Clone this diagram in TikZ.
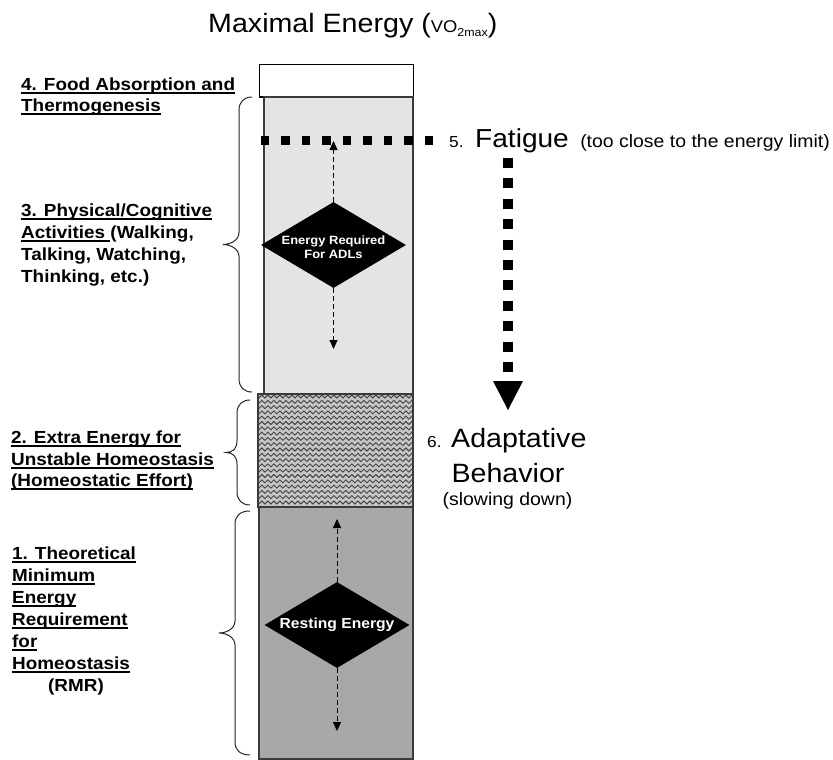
\documentclass[tikz,border=0pt]{standalone}
\usepackage{fontspec}
\setmainfont[FakeStretch=1.08]{Liberation Sans}
\usetikzlibrary{arrows.meta,decorations.pathmorphing,shapes.geometric}
\newsavebox\myulbox
\newcommand\myul[1]{\sbox\myulbox{#1}\rlap{\rule[-3.6pt]{\wd\myulbox}{1.5pt}}\usebox\myulbox}
\newcommand\fsz[1]{\fontsize{#1}{#1}\selectfont}
\definecolor{lightbox}{HTML}{E4E4E4}
\definecolor{darkbox}{HTML}{A8A8A8}
\definecolor{wavebg}{HTML}{C6C6C6}
\definecolor{waveln}{HTML}{444444}
\definecolor{edge}{HTML}{3A3A3A}
\newcommand\curlybrace[5]{%
  \pgfmathsetmacro\cbm{(#4+#5)/2}%
  \draw[curlyline] (#1,#4) .. controls ({#2+5},#4) and (#2,{#4+5}) .. (#2,{#4+13})
    -- (#2,{\cbm-12}) .. controls (#2,{\cbm-4}) and ({#3+7},\cbm) .. (#3,\cbm)
    .. controls ({#3+7},\cbm) and (#2,{\cbm+4}) .. (#2,{\cbm+12})
    -- (#2,{#5-13}) .. controls (#2,{#5-5}) and ({#2+5},#5) .. (#1,#5);}
\tikzset{
  boxline/.style={draw=edge, line width=1.2pt},
  curlyline/.style={draw=black!85, line width=1pt},
  lbl/.style={inner sep=0pt, anchor=base west, font=\bfseries\fsz{17.5}},
  txt/.style={inner sep=0pt, anchor=base west},
  ctxt/.style={inner sep=0pt, anchor=base},
  dia/.style={diamond, fill=black, inner sep=0pt, minimum width=145pt, minimum height=86pt},
  diatext/.style={text=white, inner sep=0pt, align=center, font=\bfseries},
  dasharr/.style={draw=black, line width=1pt, dash pattern=on 5pt off 3pt, -{Triangle[width=8pt,length=9pt]}},
  fatdots/.style={draw=black, line width=8.5pt, dash pattern=on 8.5pt off 12pt},
  fatdotsv/.style={draw=black, line width=10pt, dash pattern=on 10pt off 10.4pt},
  waveline/.style={draw=waveln, line width=0.9pt, decorate, decoration={snake, segment length=6pt, amplitude=1.5pt}}
}
\begin{document}
\begin{tikzpicture}[x=1pt,y=-1pt]
\useasboundingbox (0,0) rectangle (833,760);
\fill[white] (0,0) rectangle (833,760);

% column of boxes
\draw[boxline, draw=black, line width=1pt, fill=white] (259,65) rectangle (413,97);
\draw[boxline, fill=lightbox] (264,97) rectangle (413,394);
\begin{scope}
  \clip (258,394) rectangle (413,507);
  \fill[wavebg] (258,394) rectangle (413,507);
  \foreach \yy in {396.5,401.8,...,508} \draw[waveline] (254,\yy) -- (417,\yy);
\end{scope}
\draw[boxline] (258,394) rectangle (413,507);
\draw[boxline, fill=darkbox] (259,507) rectangle (413,759);

% title
\node[txt] (title) at (208,33) {\fsz{26.5}Maximal Energy (\fsz{17}VO\raisebox{-4pt}{\fsz{11.5}2max}\fsz{26.5})};

% diamonds
\node[dia] (adl) at (333.5,245) {};
\node[diatext, font=\bfseries\fontsize{12}{14}\selectfont] (adlt) at (333.5,247) {Energy Required\\For ADLs};
\node[dia] (rest) at (337,625) {};
\node[diatext, font=\bfseries\fsz{14.5}] (restt) at (rest.center) {Resting Energy};

\coordinate (adlup) at (333.5,141);
\coordinate (adldn) at (333.5,349);
\coordinate (restup) at (337,519);
\coordinate (restdn) at (337,731);
\draw[dasharr] (adl.north) -- (adlup);
\draw[dasharr] (adl.south) -- (adldn);
\draw[dasharr] (rest.north) -- (restup);
\draw[dasharr] (rest.south) -- (restdn);

% fatigue line and arrow
\coordinate (fatl) at (260.5,140.5);
\coordinate (fatr) at (434,140.5);
\draw[fatdots] (fatl) -- (fatr);
\coordinate (vtop) at (508,158);
\coordinate (vbot) at (508,373);
\coordinate (vtip) at (508,410);
\draw[fatdotsv] (vtop) -- (vbot);
\fill[black] (493,381) -- (523,381) -- (vtip) -- cycle;

\node[txt] (fatigue) at (449,147) {\fsz{16}5.\hspace{11.6pt}\fsz{26}Fatigue\hspace{11.4pt}\fsz{18}(too close to the energy limit)};

\node[txt] (adapt) at (427,447) {\fsz{16}6.\hspace{9.6pt}\fsz{26.5}Adaptative};
\node[ctxt] (behav) at (508,482) {\fsz{26.5}Behavior};
\node[ctxt] (slow) at (507.5,505) {\fsz{18}(slowing down)};

% braces
\curlybrace{252}{239}{223}{97}{392}
\curlybrace{250}{237}{226}{400}{505}
\curlybrace{250}{235}{219}{511}{755}

% left labels
\node[lbl] (t4a) at (21,90) {\myul{4. Food Absorption and}};
\node[lbl] (t4b) at (21,111) {\myul{Thermogenesis}};

\node[lbl] (t3a) at (21,216) {\myul{3. Physical/Cognitive}};
\node[lbl] (t3b) at (21,238) {\myul{Activities }(Walking,};
\node[lbl] (t3c) at (21,260) {Talking, Watching,};
\node[lbl] (t3d) at (21,282) {Thinking, etc.)};

\node[lbl] (t2a) at (11,443) {\myul{2. Extra Energy for}};
\node[lbl] (t2b) at (11,465) {\myul{Unstable Homeostasis}};
\node[lbl] (t2c) at (11,486) {\myul{(Homeostatic Effort)}};

\node[lbl] (t1a) at (12,559) {\myul{1. Theoretical}};
\node[lbl] (t1b) at (12,581) {\myul{Minimum}};
\node[lbl] (t1c) at (12,603) {\myul{Energy}};
\node[lbl] (t1d) at (12,625) {\myul{Requirement}};
\node[lbl] (t1e) at (12,647) {\myul{for}};
\node[lbl] (t1f) at (12,669) {\myul{Homeostasis}};
\node[lbl] (t1g) at (48,691) {(RMR)};
\end{tikzpicture}
\end{document}
